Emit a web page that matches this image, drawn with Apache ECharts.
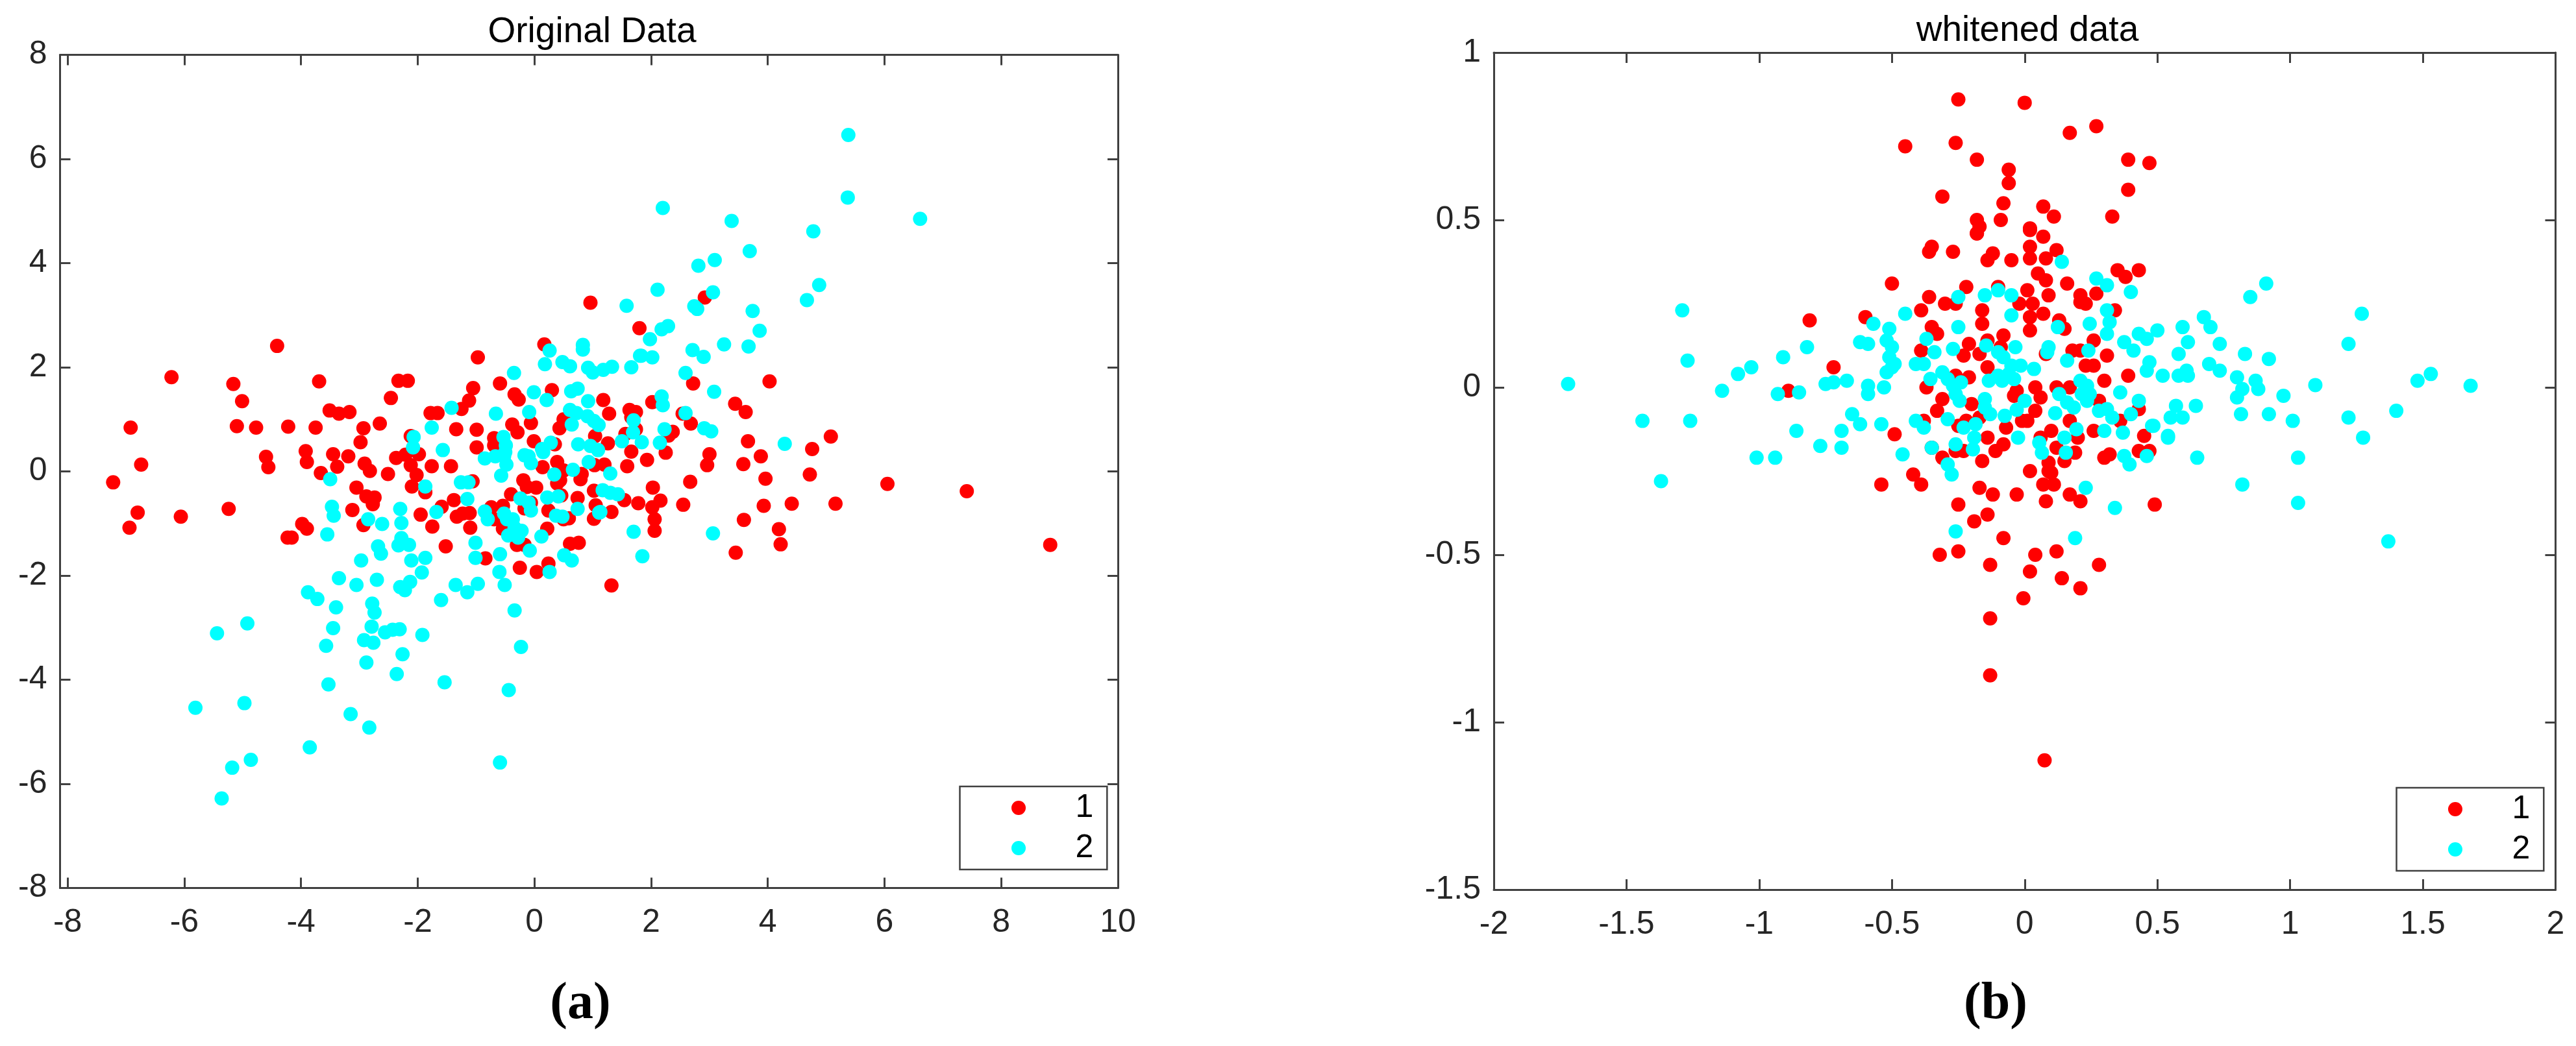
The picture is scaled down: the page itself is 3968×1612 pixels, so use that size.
<!DOCTYPE html>
<html><head><meta charset="utf-8">
<style>html,body{margin:0;padding:0;background:#fff}#c{width:3968px;height:1612px}</style>
<script src="https://cdn.jsdelivr.net/npm/echarts@6/dist/echarts.min.js"></script>
</head><body><div id="c"></div>
<script>
const titleA='Original Data', titleB='whitened data';
const xTicksA=[-8,-6,-4,-2,0,2,4,6,8,10], yTicksA=[-8,-6,-4,-2,0,2,4,6,8];
const xTicksB=[-2,-1.5,-1,-0.5,0,0.5,1,1.5,2], yTicksB=[-1.5,-1,-0.5,0,0.5,1];
const originalClass1=[[-7.22,-0.21],[-6.92,0.84],[-6.74,0.13],[-6.80,-0.79],[-6.22,1.81],[-6.06,-0.87],[-6.94,-1.08],[-5.24,-0.72],[-5.16,1.68],[-5.01,1.35],[-5.10,0.87],[-4.77,0.84],[-4.60,0.28],[-4.56,0.08],[-4.41,2.41],[-4.22,0.86],[-4.23,-1.27],[-4.16,-1.27],[-3.98,-1.01],[-3.90,-1.10],[-3.92,0.39],[-3.90,0.18],[-3.75,0.84],[-3.69,1.73],[-3.66,-0.03],[-3.51,1.17],[-3.45,0.33],[-3.38,0.09],[-3.35,1.11],[-3.17,1.14],[-3.19,0.29],[-3.12,-0.74],[-3.05,-0.31],[-2.98,0.56],[-2.93,0.83],[-2.91,0.15],[-2.82,0.01],[-2.88,-0.48],[-2.74,-0.5],[-2.77,-0.63],[-2.65,0.92],[-2.93,-1.03],[-2.51,-0.05],[-2.46,1.41],[-2.33,1.74],[-2.17,1.74],[-2.37,0.26],[-2.21,0.32],[-2.12,0.12],[-2.12,0.68],[-1.98,0.33],[-2.02,-0.07],[-2.10,-0.29],[-1.87,-0.40],[-1.76,0.10],[-1.95,-0.83],[-1.75,-1.06],[-1.59,-0.68],[-1.78,1.12],[-1.66,1.12],[-1.43,0.10],[-1.52,-1.44],[-1.34,0.81],[-1.38,-0.55],[-1.33,-0.87],[-1.25,1.20],[-1.12,1.36],[-1.05,1.60],[-1.10,-1.08],[-0.97,2.19],[-0.99,0.80],[-0.99,0.46],[-1.06,-0.19],[-1.23,-0.81],[-1.11,-0.80],[-0.84,-1.67],[-0.74,-0.69],[-0.54,-0.66],[-0.69,-0.92],[-0.54,-1.10],[-0.69,0.64],[-0.69,0.50],[-0.59,1.69],[-0.34,1.48],[-0.27,1.38],[-0.38,0.90],[-0.29,0.75],[-0.06,0.93],[-0.01,0.58],[-0.40,-0.44],[-0.19,-0.17],[-0.13,-0.30],[0.03,-0.31],[-0.17,-0.71],[-0.06,-0.60],[-0.30,-1.41],[-0.17,-1.41],[-0.25,-1.85],[0.04,-1.93],[0.24,-1.77],[0.14,0.08],[0.39,0.18],[0.35,0.52],[0.43,0.83],[0.30,1.56],[0.17,2.44],[0.50,1.00],[1.04,0.68],[1.26,0.54],[1.28,1.11],[1.18,1.37],[0.96,3.24],[1.80,2.75],[1.20,0.13],[1.03,0.12],[0.81,-0.05],[0.50,0.02],[0.39,-0.23],[0.44,-0.17],[0.79,-0.15],[0.74,-0.51],[0.46,-0.46],[1.02,-0.37],[1.05,-0.65],[1.54,-0.55],[1.78,-0.61],[1.32,-0.78],[1.02,-0.91],[0.24,-0.75],[0.59,-0.90],[0.50,-0.92],[0.22,-1.10],[0.61,-1.39],[0.76,-1.37],[1.32,-2.19],[1.59,0.10],[1.66,0.38],[1.63,1.18],[1.74,1.14],[1.66,1.04],[1.56,0.72],[1.74,0.81],[1.93,0.22],[2.02,1.33],[2.92,3.34],[4.03,1.73],[2.72,1.69],[3.44,1.30],[3.62,1.14],[2.54,1.11],[2.68,0.92],[2.37,0.76],[2.30,0.69],[2.25,0.36],[3.66,0.58],[5.08,0.67],[4.76,0.43],[3.88,0.29],[3.0,0.33],[2.96,0.12],[3.58,0.14],[2.67,-0.20],[3.96,-0.14],[4.72,-0.06],[6.05,-0.24],[7.41,-0.38],[2.03,-0.31],[2.16,-0.56],[2.02,-0.69],[2.55,-0.64],[3.93,-0.66],[4.41,-0.62],[5.16,-0.62],[3.59,-0.93],[2.06,-0.92],[2.06,-1.14],[4.19,-1.11],[4.22,-1.40],[3.45,-1.56],[8.84,-1.41]];
const originalClass2=[[1.58,3.18],[0.26,2.32],[0.18,2.06],[0.48,2.10],[0.61,2.02],[0.83,2.43],[0.83,2.34],[0.92,1.99],[1.00,1.90],[1.18,1.95],[1.33,2.01],[1.66,2.0],[1.83,2.22],[1.98,2.54],[2.02,2.19],[-0.35,1.89],[-0.01,1.52],[0.21,1.37],[0.63,1.54],[0.74,1.59],[0.92,1.35],[-0.66,1.11],[-0.09,1.14],[-1.42,1.22],[-1.76,0.84],[-2.07,0.66],[-2.08,0.46],[-1.57,0.41],[-0.85,0.25],[-0.67,0.29],[-0.53,0.66],[-0.49,0.50],[-0.50,0.37],[-0.52,0.29],[-0.48,0.13],[-0.57,-0.08],[-0.17,0.31],[-0.10,0.29],[-0.06,0.16],[0.13,0.43],[0.28,0.55],[0.15,0.37],[0.61,1.18],[0.72,1.12],[0.64,0.90],[0.91,1.06],[1.02,0.97],[1.10,0.89],[0.75,0.52],[0.96,0.49],[1.09,0.41],[0.93,0.18],[0.34,-0.06],[0.66,0.03],[1.30,-0.04],[1.50,0.58],[1.70,0.98],[1.69,0.75],[1.84,0.56],[-3.50,-0.15],[-1.87,-0.29],[-1.26,-0.21],[-1.13,-0.21],[-1.15,-0.53],[-3.47,-0.68],[-3.44,-0.85],[-1.68,-0.78],[-2.30,-0.72],[-2.28,-0.99],[-2.85,-0.92],[-2.61,-1.01],[-3.55,-1.21],[-2.28,-1.28],[-2.33,-1.42],[-2.15,-1.41],[-2.68,-1.44],[-2.63,-1.58],[-2.97,-1.71],[-2.11,-1.71],[-1.87,-1.66],[-1.93,-1.94],[-3.35,-2.05],[-3.05,-2.18],[-2.70,-2.08],[-2.13,-2.12],[-2.30,-2.22],[-2.22,-2.28],[-3.88,-2.32],[-3.72,-2.45],[-3.40,-2.61],[-2.78,-2.54],[-2.74,-2.71],[-4.92,-2.92],[-5.44,-3.11],[-3.45,-3.01],[-2.79,-2.98],[-2.56,-3.09],[-2.43,-3.04],[-2.31,-3.03],[-1.92,-3.14],[-2.92,-3.24],[-2.76,-3.29],[-3.57,-3.35],[-2.26,-3.51],[-2.88,-3.67],[-2.36,-3.89],[-3.53,-4.09],[-1.54,-4.05],[-0.44,-4.20],[-3.15,-4.66],[-0.34,-2.67],[-0.23,-3.37],[-1.60,-2.47],[-1.35,-2.18],[-1.15,-2.32],[-0.97,-2.16],[-0.51,-2.18],[-0.60,-1.93],[-1.01,-1.37],[-1.01,-1.66],[-0.59,-1.59],[-0.85,-0.77],[-0.80,-0.92],[-0.52,-0.81],[-0.47,-0.92],[-0.37,-0.92],[-0.34,-1.08],[-0.22,-1.14],[-0.45,-1.23],[-0.28,-1.27],[-0.08,-1.52],[-0.24,-0.52],[-0.10,-0.60],[-0.06,-0.75],[0.22,-0.50],[0.41,-0.48],[0.37,-0.85],[0.48,-0.87],[0.12,-1.25],[0.51,-1.61],[0.64,-1.71],[0.26,-1.93],[0.74,-0.72],[1.13,-0.78],[1.17,-0.36],[1.30,-0.41],[1.43,-0.44],[1.70,-1.16],[1.85,-1.63],[-5.81,-4.54],[-4.97,-4.45],[-2.83,-4.92],[-3.85,-5.30],[-4.86,-5.54],[-5.18,-5.69],[-5.36,-6.28],[-0.59,-5.59],[5.38,6.46],[5.37,5.26],[6.61,4.85],[2.20,5.06],[3.38,4.81],[4.78,4.61],[3.69,4.23],[3.09,4.06],[2.81,3.95],[4.88,3.58],[4.67,3.29],[2.11,3.49],[3.06,3.44],[2.74,3.17],[2.79,3.12],[3.74,3.08],[3.86,2.70],[2.29,2.79],[2.18,2.73],[3.25,2.44],[3.67,2.40],[2.71,2.33],[2.90,2.20],[1.81,2.22],[2.59,1.89],[3.08,1.53],[2.18,1.44],[2.20,1.27],[2.59,1.12],[2.23,0.81],[2.15,0.55],[2.91,0.83],[3.03,0.77],[4.29,0.53],[3.06,-1.19],[1.11,-0.79]];
const whitenedClass1=[[-0.54,-0.29],[-0.42,-0.26],[-0.39,-0.29],[-0.17,-0.30],[-0.12,-0.32],[-0.03,-0.32],[0.02,-0.25],[0.09,-0.25],[0.07,-0.29],[0.11,-0.29],[0.17,-0.32],[0.21,-0.34],[0.08,-0.34],[0.49,-0.35],[-0.25,-0.35],[-0.14,-0.38],[-0.19,-0.40],[-0.08,-0.45],[-0.25,-0.49],[-0.32,-0.50],[-0.13,-0.53],[0.04,-0.50],[0.12,-0.49],[0.02,-0.55],[0.28,-0.53],[0.14,-0.57],[0.21,-0.60],[-0.005,-0.63],[-0.13,-0.69],[-0.13,-0.86],[0.075,-1.114],[-0.50,0.31],[-0.60,0.21],[-0.39,0.23],[-0.36,0.27],[-0.35,0.18],[-0.33,0.16],[-0.39,0.11],[-0.35,0.42],[-0.36,0.405],[-0.27,0.405],[-0.18,0.46],[-0.12,0.40],[-0.14,0.38],[-0.05,0.38],[0.02,0.42],[0.02,0.385],[0.02,0.47],[0.07,0.45],[0.12,0.41],[0.08,0.385],[0.05,0.34],[0.08,0.32],[0.09,0.275],[0.16,0.31],[0.01,0.29],[-0.02,0.25],[0.03,0.25],[0.07,0.22],[0.02,0.21],[0.02,0.17],[0.13,0.20],[0.15,0.175],[0.21,0.275],[0.21,0.255],[0.23,0.25],[0.27,0.28],[0.35,0.35],[0.38,0.33],[0.43,0.35],[0.34,0.23],[0.26,0.14],[0.31,0.095],[0.18,0.11],[0.21,0.11],[0.23,0.065],[0.26,0.065],[0.39,0.035],[0.30,0.02],[-0.10,0.30],[-0.22,0.30],[-0.30,0.25],[-0.26,0.25],[-0.16,0.23],[-0.16,0.19],[-0.08,0.155],[-0.14,0.14],[-0.21,0.13],[-0.23,0.095],[-0.17,0.10],[-0.09,0.12],[-0.14,0.06],[-0.26,0.035],[-0.21,0.03],[-0.37,0.0],[-0.31,-0.035],[-0.33,-0.07],[-0.20,-0.05],[0.08,0.10],[-0.04,-0.025],[-0.03,-0.01],[0.04,0.0],[0.12,0.0],[0.06,-0.03],[0.17,0.0],[0.28,-0.04],[0.04,-0.07],[0.01,-0.10],[-0.01,-0.10],[0.10,-0.13],[0.06,-0.15],[-0.07,-0.12],[-0.08,-0.17],[-0.11,-0.19],[-0.16,-0.22],[-0.14,-0.15],[-0.17,-0.09],[-0.25,-0.115],[-0.22,-0.10],[-0.38,-0.10],[-0.49,-0.14],[-0.35,-0.18],[-0.31,-0.21],[-0.26,-0.19],[-0.23,-0.19],[0.12,-0.18],[0.19,-0.195],[0.15,-0.22],[0.20,-0.15],[0.17,-0.10],[0.09,-0.225],[0.10,-0.255],[0.26,-0.13],[0.36,-0.10],[0.43,-0.065],[0.45,-0.145],[0.47,-0.19],[0.43,-0.19],[0.32,-0.20],[0.30,-0.21],[-0.25,0.86],[0.0,0.85],[0.27,0.78],[0.17,0.76],[-0.45,0.72],[-0.26,0.73],[-0.18,0.68],[-0.06,0.65],[-0.06,0.61],[-0.31,0.57],[-0.08,0.55],[0.07,0.54],[0.11,0.51],[-0.18,0.50],[-0.17,0.48],[-0.18,0.46],[-0.09,0.50],[0.02,0.475],[-0.81,0.20],[-0.72,0.06],[-0.89,-0.01],[0.39,0.68],[0.47,0.67],[0.39,0.59],[0.33,0.51]];
const whitenedClass2=[[-1.72,0.01],[-1.29,0.23],[-1.27,0.08],[-1.44,-0.10],[-1.26,-0.10],[-1.37,-0.28],[-1.14,-0.01],[-1.08,0.04],[-1.03,0.06],[-1.01,-0.21],[-0.94,-0.21],[-0.93,-0.02],[-0.91,0.09],[-0.82,0.12],[-0.85,-0.015],[-0.86,-0.13],[-0.77,-0.175],[-0.75,0.01],[-0.72,0.015],[-0.67,0.02],[-0.69,-0.13],[-0.69,-0.18],[-0.65,-0.08],[-0.62,-0.11],[-0.62,0.135],[-0.59,0.13],[-0.57,0.19],[-0.51,0.175],[-0.52,0.14],[-0.50,0.12],[-0.51,0.09],[-0.49,0.07],[-0.52,0.045],[-0.50,0.06],[-0.59,0.005],[-0.59,-0.02],[-0.53,0.0],[-0.54,-0.11],[-0.46,-0.20],[-0.45,0.22],[-0.41,-0.10],[-0.38,-0.12],[-0.41,0.07],[-0.38,0.07],[-0.37,0.145],[-0.34,0.105],[-0.355,0.025],[-0.31,0.045],[-0.29,0.025],[-0.27,0.005],[-0.24,0.015],[-0.26,-0.02],[-0.245,-0.04],[-0.29,-0.095],[-0.35,-0.18],[-0.26,-0.17],[-0.29,-0.23],[-0.275,-0.26],[-0.25,0.27],[-0.25,0.18],[-0.27,0.115],[-0.15,0.275],[-0.10,0.29],[-0.05,0.275],[-0.05,0.215],[-0.145,0.125],[-0.10,0.105],[-0.08,0.09],[-0.035,0.12],[-0.05,0.065],[-0.015,0.065],[0.035,0.055],[-0.135,0.02],[-0.10,0.035],[-0.085,0.02],[-0.06,0.04],[-0.04,0.025],[-0.15,-0.035],[-0.15,-0.06],[-0.13,-0.08],[-0.075,-0.085],[-0.03,-0.067],[0.0,-0.04],[-0.025,-0.15],[0.09,0.12],[0.085,0.105],[0.14,0.375],[0.16,0.08],[0.125,0.18],[0.13,-0.02],[0.16,-0.045],[0.185,-0.06],[0.115,-0.077],[0.21,0.02],[0.235,0.005],[0.215,-0.02],[0.245,-0.02],[0.235,-0.04],[0.24,0.11],[0.245,0.19],[0.27,0.325],[0.31,0.305],[0.40,0.285],[0.31,0.23],[0.32,0.195],[0.31,0.16],[0.375,0.135],[0.41,0.11],[0.43,0.16],[0.46,0.145],[0.50,0.17],[0.47,0.075],[0.46,0.05],[0.52,0.035],[0.36,-0.015],[0.43,-0.04],[0.40,-0.08],[0.48,-0.115],[0.54,-0.145],[0.37,-0.135],[0.28,-0.07],[0.31,-0.065],[0.33,-0.09],[0.30,-0.13],[0.195,-0.125],[0.15,-0.15],[0.055,-0.165],[0.065,-0.195],[0.155,-0.195],[0.375,-0.205],[0.395,-0.23],[0.46,-0.205],[-0.195,-0.185],[-0.19,-0.15],[-0.23,-0.12],[-0.185,-0.11],[0.58,0.035],[0.61,0.05],[0.615,0.035],[0.58,0.10],[0.615,0.135],[0.595,0.18],[0.675,0.21],[0.70,0.18],[0.735,0.13],[0.83,0.10],[0.92,0.085],[0.695,0.07],[0.735,0.05],[0.80,0.03],[0.87,0.02],[0.88,-0.005],[0.82,-0.005],[0.80,-0.03],[0.975,-0.025],[1.095,0.007],[0.85,0.27],[0.91,0.31],[1.27,0.22],[1.22,0.13],[1.48,0.02],[1.53,0.04],[1.68,0.005],[1.40,-0.07],[1.22,-0.09],[1.275,-0.15],[0.92,-0.08],[0.815,-0.08],[1.01,-0.10],[0.645,-0.055],[0.57,-0.055],[0.55,-0.09],[0.595,-0.09],[0.485,-0.115],[0.54,-0.15],[0.65,-0.21],[1.03,-0.21],[0.82,-0.29],[1.03,-0.345],[0.23,-0.30],[0.34,-0.36],[0.19,-0.45],[-0.26,-0.43],[1.37,-0.46]];

const FONT='"Liberation Sans",Arial,sans-serif', INK='#262626', FRAME='#404040';
const RED='#ff0000', CYAN='#00ffff';
function axis(pos,grid,ticks,min,max,showLabels){
  const vertical=pos==='left'||pos==='right';
  return {type:'value',gridIndex:grid,position:pos,min,max,
    axisLine:{show:true,onZero:false,lineStyle:{color:FRAME,width:3}},
    axisTick:{show:true,inside:true,length:16,customValues:ticks,lineStyle:{color:FRAME,width:3}},
    axisLabel:{show:showLabels,customValues:ticks,margin:vertical?20:29,color:INK,fontFamily:FONT,fontSize:50,
      hideOverlap:false,showMinLabel:true,showMaxLabel:true},
    splitLine:{show:false}};
}
function dots(name,data,color,idx){
  return {type:'scatter',name,data,xAxisIndex:idx,yAxisIndex:idx,symbol:'circle',symbolSize:22,
    itemStyle:{color,opacity:1},silent:true,animation:false,large:false};
}
function legend(left,top){
  return {left,top,orient:'vertical',data:[{name:'1',icon:'circle'},{name:'2',icon:'circle'}],selectedMode:false,
    backgroundColor:'#fff',borderColor:FRAME,borderWidth:2.5,borderRadius:0,padding:[8,21,8,79.5],
    itemWidth:165,itemHeight:22,itemGap:12,textStyle:{color:'#000',fontFamily:FONT,fontSize:50,lineHeight:47}};
}
function caption(text,left,top){
  return {text,left,top,textAlign:'center',textStyle:{fontFamily:FONT,fontSize:55,fontWeight:'normal',color:'#000'}};
}
function panelLabel(letter,left,top){
  return {text:'{p|(}{b|'+letter+'}{p|)}',left,top,textAlign:'center',textStyle:{rich:{
    p:{fontFamily:'"Liberation Serif",serif',fontSize:80,color:'#000'},
    b:{fontFamily:'"Liberation Serif",serif',fontSize:80,fontWeight:'bold',color:'#000'}}}};
}
const chart=echarts.init(document.getElementById('c'),null,{renderer:'canvas'});
chart.setOption({
  animation:false,backgroundColor:'#fff',
  title:[caption(titleA,907,17),caption(titleB,3118,15),panelLabel('a',889,1503),panelLabel('b',3069,1503)],
  legend:[legend(1478.5,1212),legend(3691.5,1214)],
  grid:[{left:92.5,top:84.5,width:1629.5,height:1284},{left:2301,top:81,width:1635.5,height:1290}],
  xAxis:[axis('bottom',0,xTicksA,-8.13,10,true),axis('top',0,xTicksA,-8.13,10,false),
         axis('bottom',1,xTicksB,-2,2,true),axis('top',1,xTicksB,-2,2,false)],
  yAxis:[axis('left',0,yTicksA,-8,8,true),axis('right',0,yTicksA,-8,8,false),
         axis('left',1,yTicksB,-1.5,1,true),axis('right',1,yTicksB,-1.5,1,false)],
  series:[dots('1',originalClass1,RED,0),dots('2',originalClass2,CYAN,0),
          dots('1',whitenedClass1,RED,2),dots('2',whitenedClass2,CYAN,2)]
});
</script></body></html>
